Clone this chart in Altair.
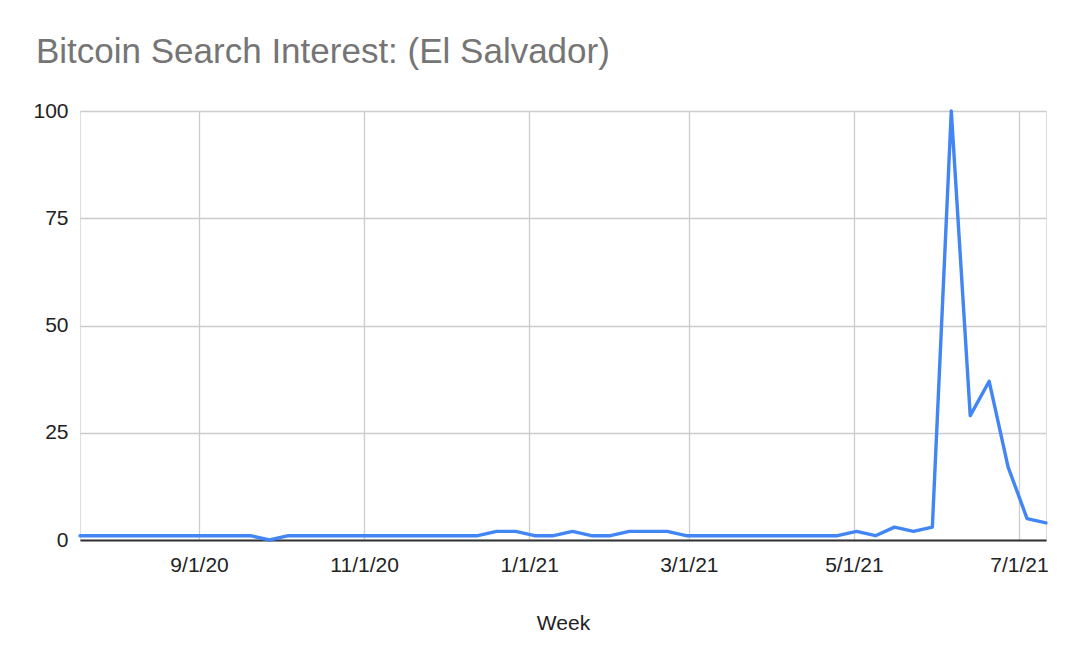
import altair as alt
import pandas as pd

title_text = "Bitcoin Search Interest: (El Salvador)"
x_title = "Week"
start_week = "2020-07-19"
n_weeks = 52
interest = [1, 1, 1, 1, 1, 1, 1, 1, 1, 1,
            0,
            1, 1, 1, 1, 1, 1, 1, 1, 1, 1, 1,
            2, 2, 1, 1, 2, 1, 1, 2, 2, 2,
            1, 1, 1, 1, 1, 1, 1, 1, 1,
            2, 1, 3, 2, 3,
            100, 29, 37, 17, 5, 4]
x_ticks = [(2020, 9, 1), (2020, 11, 1), (2021, 1, 1), (2021, 3, 1), (2021, 5, 1), (2021, 7, 1)]
y_ticks = [0, 25, 50, 75, 100]
x_domain = [(2020, 7, 19), (2021, 7, 11)]

weeks = pd.date_range(start_week, periods=n_weeks, freq="7D").strftime("%Y-%m-%d").tolist()
df = pd.DataFrame({"week": weeks, "interest": interest})

def dt(t):
    return alt.DateTime(year=t[0], month=t[1], date=t[2], utc=True)

FONT = "Liberation Sans"

chart = alt.Chart(df).mark_line(
    color="#4285F4", strokeWidth=3.4, strokeJoin="round", strokeCap="round"
).encode(
    x=alt.X("week:T",
            scale=alt.Scale(type="utc", domain=[dt(t) for t in x_domain]),
            axis=alt.Axis(values=[dt(t) for t in x_ticks],
                          labelExpr="utcFormat(datum.value, '%-m/%-d/%y')",
                          title=x_title, grid=True,
                          gridColor="#cccccc", gridWidth=1.3, ticks=False,
                          domainColor="#333333", domainWidth=2.2,
                          labelFont=FONT, labelFontSize=21, labelColor="#222222",
                          labelPadding=14, titleFont=FONT, titleFontSize=21,
                          titleFontWeight="normal", titleColor="#222222",
                          titlePadding=37, labelFlush=False)),
    y=alt.Y("interest:Q",
            scale=alt.Scale(domain=[0, 100], nice=False),
            axis=alt.Axis(values=y_ticks, title=None, grid=True, gridColor="#cccccc",
                          gridWidth=1.3, ticks=False, domain=False,
                          labelFont=FONT, labelFontSize=21, labelColor="#222222",
                          labelPadding=12)),
).properties(
    width=966, height=429,
    title=alt.TitleParams(title_text, anchor="start", frame="group", dx=-44,
                          font=FONT, fontSize=35, fontWeight="normal",
                          color="#757575", offset=30),
    padding={"left": 72, "top": 103, "right": 20, "bottom": 100},
    autosize=alt.AutoSizeParams(type="none"),
).configure_view(stroke=None).configure(background="white")

chart.save("out.html", embed_options={"renderer": "svg", "actions": False})
